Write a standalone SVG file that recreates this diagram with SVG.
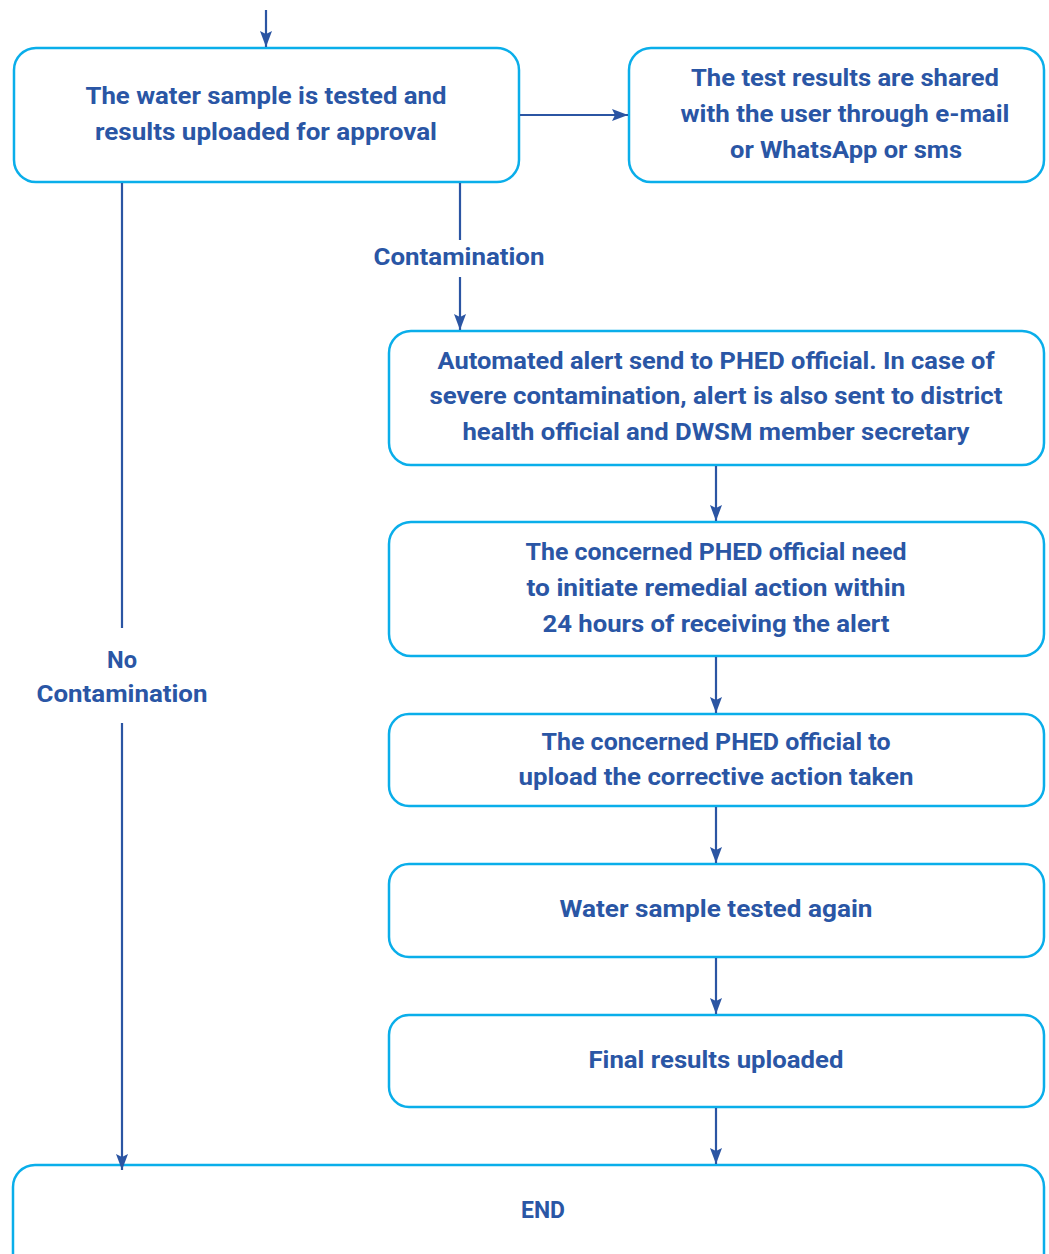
<svg xmlns="http://www.w3.org/2000/svg" width="1049" height="1254" viewBox="0 0 1049 1254">
<style>
.box{fill:#fff;stroke:#0AAEEA;stroke-width:2.5}
.t{font-family:Roboto,"Liberation Sans",sans-serif;font-weight:700;font-size:23px;fill:#2A56A5;text-anchor:middle}
.c{stroke:#2B55A3;stroke-width:2.2;fill:none}
</style>
<defs>
<marker id="ah" viewBox="0 0 16 12" refX="16" refY="6" markerWidth="16" markerHeight="12" markerUnits="userSpaceOnUse" orient="auto"><path d="M0,0 L16,6 L0,12 L3,6 Z" fill="#2B55A3"/></marker>
</defs>
<rect width="1049" height="1254" fill="#fff"/>
<g id="n1">
<rect class="box" x="14" y="48" width="505" height="134" rx="22"/>
<text class="t" x="266" y="104" textLength="361" lengthAdjust="spacingAndGlyphs">The water sample is tested and</text>
<text class="t" x="266" y="140" textLength="342" lengthAdjust="spacingAndGlyphs">results uploaded for approval</text>
</g>
<g id="n2">
<rect class="box" x="629" y="48" width="415" height="134" rx="22"/>
<text class="t" x="845" y="86" textLength="308" lengthAdjust="spacingAndGlyphs">The test results are shared</text>
<text class="t" x="845" y="122" textLength="329" lengthAdjust="spacingAndGlyphs">with the user through e-mail</text>
<text class="t" x="846" y="158" textLength="232" lengthAdjust="spacingAndGlyphs">or WhatsApp or sms</text>
</g>
<g id="n3">
<rect class="box" x="389" y="331" width="655" height="134" rx="22"/>
<text class="t" x="716" y="369" textLength="557" lengthAdjust="spacingAndGlyphs">Automated alert send to PHED official. In case of</text>
<text class="t" x="716" y="404" textLength="573" lengthAdjust="spacingAndGlyphs">severe contamination, alert is also sent to district</text>
<text class="t" x="716" y="440" textLength="507" lengthAdjust="spacingAndGlyphs">health official and DWSM member secretary</text>
</g>
<g id="n4">
<rect class="box" x="389" y="522" width="655" height="134" rx="22"/>
<text class="t" x="716" y="560" textLength="381" lengthAdjust="spacingAndGlyphs">The concerned PHED official need</text>
<text class="t" x="716" y="596" textLength="379" lengthAdjust="spacingAndGlyphs">to initiate remedial action within</text>
<text class="t" x="716" y="632" textLength="347" lengthAdjust="spacingAndGlyphs">24 hours of receiving the alert</text>
</g>
<g id="n5">
<rect class="box" x="389" y="714" width="655" height="92" rx="20"/>
<text class="t" x="716" y="750" textLength="349" lengthAdjust="spacingAndGlyphs">The concerned PHED official to</text>
<text class="t" x="716" y="785" textLength="395" lengthAdjust="spacingAndGlyphs">upload the corrective action taken</text>
</g>
<g id="n6">
<rect class="box" x="389" y="864" width="655" height="93" rx="20"/>
<text class="t" x="716" y="917" textLength="313" lengthAdjust="spacingAndGlyphs">Water sample tested again</text>
</g>
<g id="n7">
<rect class="box" x="389" y="1015" width="655" height="92" rx="20"/>
<text class="t" x="716" y="1068" textLength="255" lengthAdjust="spacingAndGlyphs">Final results uploaded</text>
</g>
<g id="end">
<rect class="box" x="13" y="1165" width="1031" height="120" rx="22"/>
<text class="t" x="543" y="1218" textLength="44" lengthAdjust="spacingAndGlyphs">END</text>
</g>
<g id="connectors">
<line class="c" x1="266" y1="10" x2="266" y2="47" marker-end="url(#ah)"/>
<line class="c" x1="520" y1="115" x2="628" y2="115" marker-end="url(#ah)"/>
<line class="c" x1="460" y1="183" x2="460" y2="240"/>
<line class="c" x1="460" y1="277" x2="460" y2="330" marker-end="url(#ah)"/>
<line class="c" x1="122" y1="183" x2="122" y2="628"/>
<line class="c" x1="122" y1="723" x2="122" y2="1170" marker-end="url(#ah)"/>
<line class="c" x1="716" y1="466" x2="716" y2="521" marker-end="url(#ah)"/>
<line class="c" x1="716" y1="657" x2="716" y2="713" marker-end="url(#ah)"/>
<line class="c" x1="716" y1="807" x2="716" y2="863" marker-end="url(#ah)"/>
<line class="c" x1="716" y1="958" x2="716" y2="1014" marker-end="url(#ah)"/>
<line class="c" x1="716" y1="1108" x2="716" y2="1164" marker-end="url(#ah)"/>
<text class="t" x="459" y="265" textLength="171" lengthAdjust="spacingAndGlyphs">Contamination</text>
<text class="t" x="122" y="668" textLength="30" lengthAdjust="spacingAndGlyphs">No</text>
<text class="t" x="122" y="702" textLength="171" lengthAdjust="spacingAndGlyphs">Contamination</text>
</g>
</svg>
